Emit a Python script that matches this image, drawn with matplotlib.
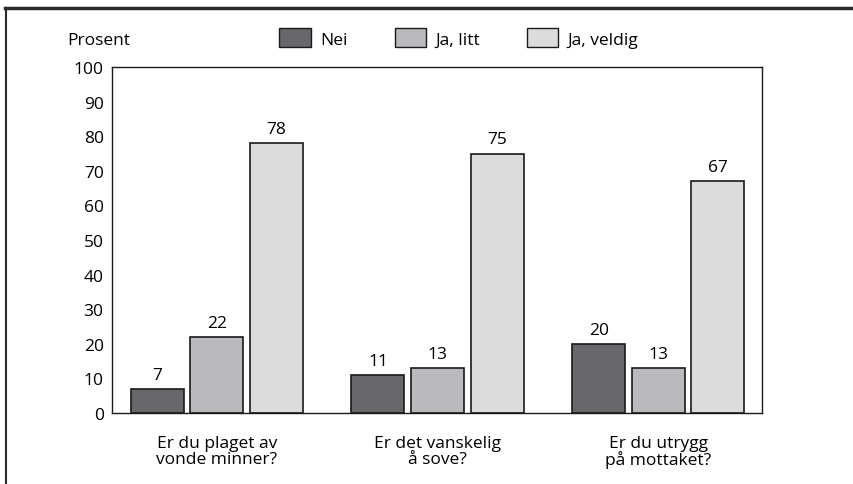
import numpy as np
import matplotlib.pyplot as plt
from matplotlib.lines import Line2D
from matplotlib.patches import Patch

plt.rcParams['font.family'] = ['Open Sans', 'DejaVu Sans']

questions = ['Er du plaget av\nvonde minner?', 'Er det vanskelig\nå sove?', 'Er du utrygg\npå mottaket?']
series = ['Nei', 'Ja, litt', 'Ja, veldig']
nei = [7, 11, 20]
ja_litt = [22, 13, 13]
ja_veldig = [78, 75, 67]

colors = ['#68686c', '#b9babd', '#dcdcde']
offsets = [-0.27, 0.0, 0.27]
fs = 12.5

fig = plt.figure(figsize=(8.54, 4.85), dpi=100)
ax = fig.add_axes([112/854, 1 - 414/485, 650/854, 346/485])

x = np.arange(len(questions))
for vals, col, off in zip([nei, ja_litt, ja_veldig], colors, offsets):
    bars = ax.bar(x + off, vals, width=0.24, color=col, edgecolor='#1a1a1a', linewidth=1.2)
    for b, v in zip(bars, vals):
        ax.text(b.get_x() + b.get_width() / 2, v + 1.8, str(v), ha='center', va='bottom', fontsize=fs)

ax.set_xlim(-0.475, 2.47)
ax.set_ylim(0, 100)
ax.set_yticks(range(0, 101, 10))
ax.tick_params(axis='y', length=0, labelsize=fs, pad=6)
ax.set_xticks(x)
ax.set_xticklabels(questions, fontsize=fs, linespacing=0.95)
ax.tick_params(axis='x', length=0, pad=16)
for s in ax.spines.values():
    s.set_linewidth(1.0)
    s.set_color('#1a1a1a')

fig.text(67/854, 1 - 41/485, 'Prosent', fontsize=fs, va='center')
handles = [Patch(facecolor=c, edgecolor='#1a1a1a', linewidth=1.0) for c in colors]
fig.legend(handles, series, loc='center', bbox_to_anchor=(459/854, 1 - 39/485), ncol=3,
           frameon=False, fontsize=fs, handlelength=1.8, handleheight=1.25,
           handletextpad=0.55, columnspacing=2.7)

# ramme
fig.add_artist(Line2D([5/854, 1], [1 - 9/485, 1 - 9/485], color='#2a2a2a', linewidth=2.5))
fig.add_artist(Line2D([6/854, 6/854], [0, 1 - 9/485], color='#2a2a2a', linewidth=1.5))

fig.savefig('out.png', dpi=100)
